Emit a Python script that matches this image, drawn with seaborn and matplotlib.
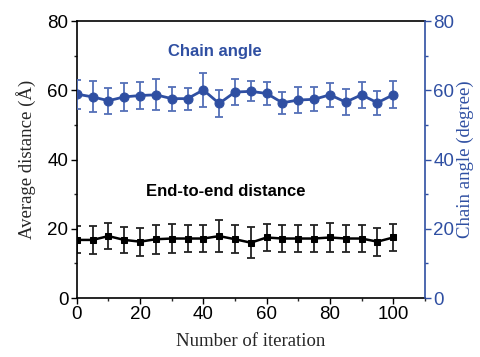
import matplotlib
matplotlib.use("Agg")
import matplotlib.pyplot as plt
import seaborn as sns
import numpy as np
import pandas as pd
from matplotlib.ticker import MultipleLocator

iterations = [0, 5, 10, 15, 20, 25, 30, 35, 40, 45, 50, 55, 60, 65, 70, 75, 80, 85, 90, 95, 100]
angle = [58.9, 58.1, 57.0, 58.1, 58.5, 58.7, 57.6, 57.6, 60.1, 56.2, 59.5, 59.7, 59.1, 56.4, 57.2, 57.4, 58.7, 56.6, 58.7, 56.4, 58.7]
angle_err = [4.2, 4.5, 3.7, 4.0, 4.0, 4.5, 3.5, 3.2, 4.8, 3.8, 3.8, 2.9, 3.4, 3.2, 3.7, 3.5, 3.4, 3.7, 3.7, 3.5, 3.9]
dist = [16.8, 16.8, 17.9, 16.8, 16.3, 17.0, 17.2, 17.2, 17.2, 17.9, 17.0, 16.0, 17.5, 17.2, 17.2, 17.2, 17.5, 17.2, 17.2, 16.3, 17.5]
dist_err = [3.9, 4.0, 3.8, 3.8, 4.0, 4.2, 4.2, 4.0, 3.8, 4.7, 4.0, 4.4, 3.8, 4.0, 4.0, 4.0, 4.2, 4.0, 4.0, 4.0, 3.8]

xticks = [0, 20, 40, 60, 80, 100]
yticks = [0, 20, 40, 60, 80]

df = pd.DataFrame({"iteration": iterations, "angle": angle, "angle_err": angle_err,
                   "dist": dist, "dist_err": dist_err})

sns.set_style("ticks")
plt.rcParams['font.family'] = ['Liberation Sans', 'DejaVu Sans']

BLUE = "#2f4fa2"
fig = plt.figure(figsize=(4.8, 3.57), dpi=100)
ax = fig.add_axes([0.160, 0.165, 0.725, 0.776])
ax2 = ax.twinx()

# distance (black)
ax.errorbar(df["iteration"], df["dist"], yerr=df["dist_err"], fmt="none",
            ecolor="#222222", elinewidth=1.3, capsize=3, capthick=1.3, zorder=2)
sns.lineplot(data=df, x="iteration", y="dist", ax=ax, color="black", marker="s",
             markersize=5, markeredgecolor="black", linewidth=1.8, zorder=3)

# chain angle (blue)
ax2.errorbar(df["iteration"], df["angle"], yerr=df["angle_err"], fmt="none",
             ecolor="#5470b8", elinewidth=1.3, capsize=3, capthick=1.3, zorder=2)
sns.lineplot(data=df, x="iteration", y="angle", ax=ax2, color=BLUE, marker="o",
             markersize=6.5, markeredgecolor=BLUE, linewidth=2.0, zorder=3)

for a in (ax, ax2):
    a.set_xlim(0, 110)
    a.set_ylim(0, 80)
    a.set_yticks(yticks)
    a.yaxis.set_minor_locator(MultipleLocator(10))

ax.set_xticks(xticks)
ax.xaxis.set_minor_locator(MultipleLocator(10))

ax.tick_params(axis="both", which="major", direction="out", length=4, width=1,
               labelsize=13.5, colors="black", pad=2)
ax.tick_params(axis="both", which="minor", direction="out", length=2.5, width=1)
ax2.tick_params(axis="y", which="major", direction="out", length=4, width=1,
                labelsize=13.5, colors=BLUE, pad=2)
ax2.tick_params(axis="y", which="minor", direction="out", length=2.5, width=1, colors=BLUE)

for s in ["left", "bottom", "top"]:
    ax.spines[s].set_color("black")
    ax.spines[s].set_linewidth(1.2)
    ax.spines[s].set_visible(True)
ax2.spines["right"].set_color(BLUE)
ax2.spines["right"].set_linewidth(1.2)
ax2.spines["top"].set_visible(False)
ax2.spines["left"].set_visible(False)
ax2.spines["bottom"].set_visible(False)
ax.spines["right"].set_visible(False)

serif = ['Liberation Serif', 'DejaVu Serif']
ax.set_xlabel("Number of iteration", family=serif, fontsize=13.5, labelpad=7)
ax.set_ylabel("Average distance (Å)", family=serif, fontsize=13.5, labelpad=8)
ax2.set_ylabel("Chain angle (degree)", family=serif, fontsize=13.5, color=BLUE,
               rotation=90, labelpad=2)

ax.text(43.5, 71.2, "Chain angle", color=BLUE, fontsize=12, fontweight="bold",
        ha="center", va="center")
ax.text(47, 30.8, "End-to-end distance", color="black", fontsize=12, fontweight="bold",
        ha="center", va="center")

fig.savefig("out.png", dpi=100)
